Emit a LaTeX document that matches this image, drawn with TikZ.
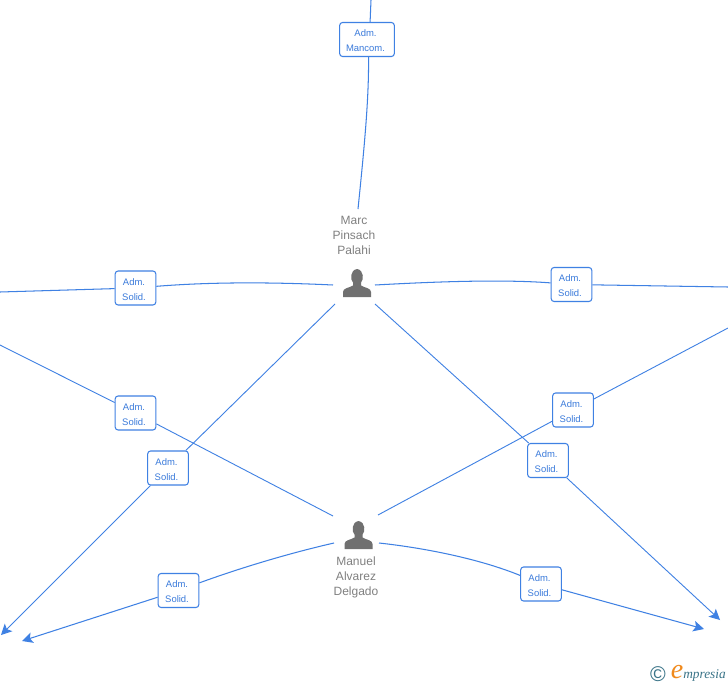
\documentclass[tikz,border=0pt]{standalone}
\usepackage{fontspec}
\setmainfont{Liberation Sans}
\newfontfamily\logofont{Liberation Serif}
\usetikzlibrary{arrows.meta}
\definecolor{linkblue}{HTML}{3F81E3}
\definecolor{labelblue}{HTML}{3B7BDB}
\definecolor{namegray}{HTML}{808080}
\definecolor{icongray}{HTML}{707070}
\definecolor{logoteal}{HTML}{3A7488}
\definecolor{logoorange}{HTML}{F08A1D}
\tikzset{
  x=0.75pt,y=-0.75pt,
  role/.style={draw=linkblue,fill=white,rounded corners=2.2pt,line width=0.8pt,minimum width=30.5pt,minimum height=25.5pt,inner sep=0pt,align=center,text=labelblue,font=\fontsize{7.1}{11.2}\selectfont},
  wide/.style={minimum width=41pt},
  link/.style={draw=linkblue,line width=0.78pt},
  thinlink/.style={draw=linkblue,line width=0.68pt},
  head/.style={-{Stealth[length=8pt,width=8pt,inset=1.8pt]}},
  person/.style={align=center,text=namegray,inner sep=0pt,font=\fontsize{9}{11.3}\selectfont},
  icon/.style={minimum size=1pt,inner sep=0pt},
}
\newcommand{\rolelines}[2]{\rule{0pt}{7.2pt}#1\hspace*{2.2pt}\\#2\hspace*{2.2pt}}
\newcommand{\personicon}[1]{%
  \fill[icongray,shift={(#1)}] (-14,14) -- (-14,9) .. controls (-14,5) and (-8,5) .. (-4,2.5)
    -- (-4,-0.5) .. controls (-7,-3) and (-7,-13) .. (0,-14) .. controls (7,-13) and (7,-3) .. (4,-0.5)
    -- (4,2.5) .. controls (8,5) and (14,5) .. (14,9) -- (14,14) -- cycle;}
\begin{document}
\begin{tikzpicture}
\useasboundingbox (0,0) rectangle (728,685);
\fill[white] (0,0) rectangle (728,685);

% free ends
\coordinate (topEnd) at (371,0);
\coordinate (leftA) at (0,292);
\coordinate (leftB) at (0,345);
\coordinate (rightA) at (728,287);
\coordinate (rightB) at (728,328);
\coordinate (arrSW1) at (1,635);
\coordinate (arrSW2) at (22,641);
\coordinate (arrSE1) at (720,620);
\coordinate (arrSE2) at (704,629);

% people
\node[icon] (marc) at (357,283) {};
\node[icon] (manuel) at (358.5,535) {};
\personicon{357,283}
\personicon{358.5,535}
\node[person] (marcname) at (354,235) {Marc\\Pinsach\\Palahi};
\node[person] (manuelname) at (356,577) {Manuel\\Alvarez\\Delgado};

% connector ends next to the people
\coordinate (marcN) at (358,209);
\coordinate (marcW) at (333,285);
\coordinate (marcE) at (375,285);
\coordinate (marcSW) at (335,304);
\coordinate (marcSE) at (375,304);
\coordinate (manNW) at (333,516);
\coordinate (manNE) at (378,515);
\coordinate (manW) at (334,543);
\coordinate (manE) at (379,543);

% labels
\node[role,wide] (mancom) at (367,39.5) {\rolelines{Adm.}{Mancom.}};
\node[role] (solA) at (135.5,288) {\rolelines{Adm.}{Solid.}};
\node[role] (solB) at (571.5,284.5) {\rolelines{Adm.}{Solid.}};
\node[role] (solC) at (135.5,413) {\rolelines{Adm.}{Solid.}};
\node[role] (solD) at (573,410) {\rolelines{Adm.}{Solid.}};
\node[role] (solE) at (168,468) {\rolelines{Adm.}{Solid.}};
\node[role] (solF) at (548,460.5) {\rolelines{Adm.}{Solid.}};
\node[role] (solG) at (178.5,590.5) {\rolelines{Adm.}{Solid.}};
\node[role] (solH) at (541,584) {\rolelines{Adm.}{Solid.}};

% connectors
\draw[link] (topEnd) -- (mancom.80);
\draw[link] (mancom.-85) .. controls (369,100) and (364,150) .. (marcN);
\draw[link] (marcW) .. controls (270,282) and (210,282) .. (solA);
\draw[link] (solA) -- (leftA);
\draw[link] (marcE) .. controls (430,282) and (500,279) .. (solB);
\draw[link] (solB) -- (rightA);
\draw[thinlink] (marcSW) -- (solE);
\draw[thinlink,head] (solE) -- (arrSW1);
\draw[thinlink] (marcSE) -- (solF);
\draw[thinlink,head] (solF) -- (arrSE1);
\draw[thinlink] (manNW) -- (solC);
\draw[thinlink] (solC) -- (leftB);
\draw[thinlink] (manNE) -- (solD);
\draw[thinlink] (solD) -- (rightB);
\draw[link] (manW) .. controls (290,553) and (240,568) .. (solG);
\draw[link,head] (solG) -- (arrSW2);
\draw[link] (manE) .. controls (425,548) and (480,559) .. (solH);
\draw[link,head] (solH) -- (arrSE2);

% logo
\node[text=logoteal,inner sep=0pt,font=\fontsize{16}{16}\selectfont] (copy) at (658,674) {©};
\node[text=logoorange,inner sep=0pt,font=\logofont\fontsize{21}{21}\selectfont\itshape] (elogo) at (677,672) {e};
\node[text=logoteal,inner sep=0pt,anchor=west,font=\logofont\fontsize{10}{11}\selectfont\itshape] (mpresia) at (683,675) {mpresia};
\end{tikzpicture}
\end{document}
